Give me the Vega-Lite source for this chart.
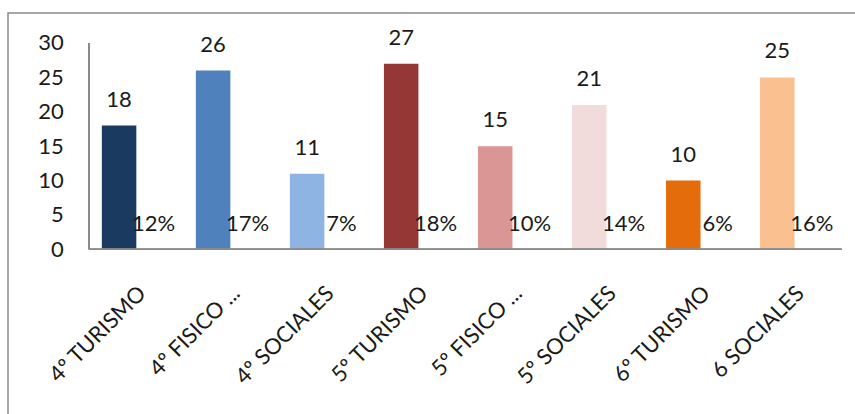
{
  "$schema": "https://vega.github.io/schema/vega-lite/v6.json",
  "autosize": "none",
  "width": 851,
  "height": 405,
  "padding": {"left": 8, "top": 13, "right": 0, "bottom": 0},
  "background": "white",
  "config": {
    "view": {"stroke": "#8a8a8a", "strokeWidth": 1.5},
    "font": "Lato",
    "axis": {"grid": false}
  },
  "data": {
    "values": [
      {"cat": "4º TURISMO", "n": 18, "pct": "12%"},
      {"cat": "4º FISICO ...", "n": 26, "pct": "17%"},
      {"cat": "4º SOCIALES", "n": 11, "pct": "7%"},
      {"cat": "5º TURISMO", "n": 27, "pct": "18%"},
      {"cat": "5º FISICO ...", "n": 15, "pct": "10%"},
      {"cat": "5º SOCIALES", "n": 21, "pct": "14%"},
      {"cat": "6º TURISMO", "n": 10, "pct": "6%"},
      {"cat": "6 SOCIALES", "n": 25, "pct": "16%"}
    ]
  },
  "layer": [
    {
      "mark": {"type": "bar", "width": 34.5, "xOffset": -17.2},
      "encoding": {
        "x": {
          "field": "cat", "type": "nominal", "sort": null,
          "scale": {"paddingInner": 0, "paddingOuter": 0.525, "align": 0.823},
          "axis": {
            "title": null, "domain": false, "ticks": false, "tickSize": 0,
            "labelAngle": -45, "labelAlign": "right", "labelBaseline": "middle",
            "labelPadding": 40, "labelOffset": 6, "offset": -168.7,
            "labelFontSize": 22, "labelColor": "#1a1a1a", "labelFont": "Lato",
            "labelOverlap": false, "labelBound": false, "labelLimit": 0
          }
        },
        "y": {
          "field": "n", "type": "quantitative",
          "scale": {"domain": [-24.53, 34.362], "nice": false, "zero": false},
          "axis": {
            "title": null, "values": [0, 5, 10, 15, 20, 25, 30],
            "domain": false, "ticks": false, "tickSize": 0, "labelPadding": 26,
            "offset": -81.3, "labelFont": "Lato", "labelFontSize": 22,
            "labelColor": "#1a1a1a"
          }
        },
        "y2": {"datum": 0},
        "color": {
          "field": "cat", "type": "nominal", "sort": null, "legend": null,
          "scale": {
            "domain": ["4º TURISMO", "4º FISICO ...", "4º SOCIALES", "5º TURISMO", "5º FISICO ...", "5º SOCIALES", "6º TURISMO", "6 SOCIALES"],
            "range": ["#1b3a5f", "#4f81bd", "#8eb4e3", "#953735", "#d99694", "#f2dcdb", "#e46c0a", "#fac090"]
          }
        }
      }
    },
    {
      "mark": {"type": "text", "baseline": "alphabetic", "dy": -19, "dx": -17.2, "fontSize": 22, "color": "#1a1a1a", "font": "Lato"},
      "encoding": {
        "x": {"field": "cat", "type": "nominal", "sort": null},
        "y": {"field": "n", "type": "quantitative"},
        "text": {"field": "n", "type": "quantitative"}
      }
    },
    {
      "mark": {"type": "text", "baseline": "alphabetic", "dy": -18.5, "dx": 17.2, "fontSize": 22, "color": "#1a1a1a", "font": "Lato"},
      "encoding": {
        "x": {"field": "cat", "type": "nominal", "sort": null},
        "y": {"datum": 0, "type": "quantitative"},
        "text": {"field": "pct", "type": "nominal"}
      }
    },
    {
      "mark": {"type": "rule", "color": "#8a8a8a", "strokeWidth": 1.3},
      "encoding": {
        "x": {"datum": "4º TURISMO", "type": "nominal", "bandPosition": 0},
        "y": {"datum": 0, "type": "quantitative"},
        "y2": {"datum": 30}
      }
    },
    {
      "mark": {"type": "rule", "color": "#8a8a8a", "strokeWidth": 1.3},
      "encoding": {
        "x": {"datum": "4º TURISMO", "type": "nominal", "bandPosition": 0},
        "x2": {"datum": "6 SOCIALES", "bandPosition": 1},
        "y": {"datum": 0, "type": "quantitative"}
      }
    }
  ]
}
